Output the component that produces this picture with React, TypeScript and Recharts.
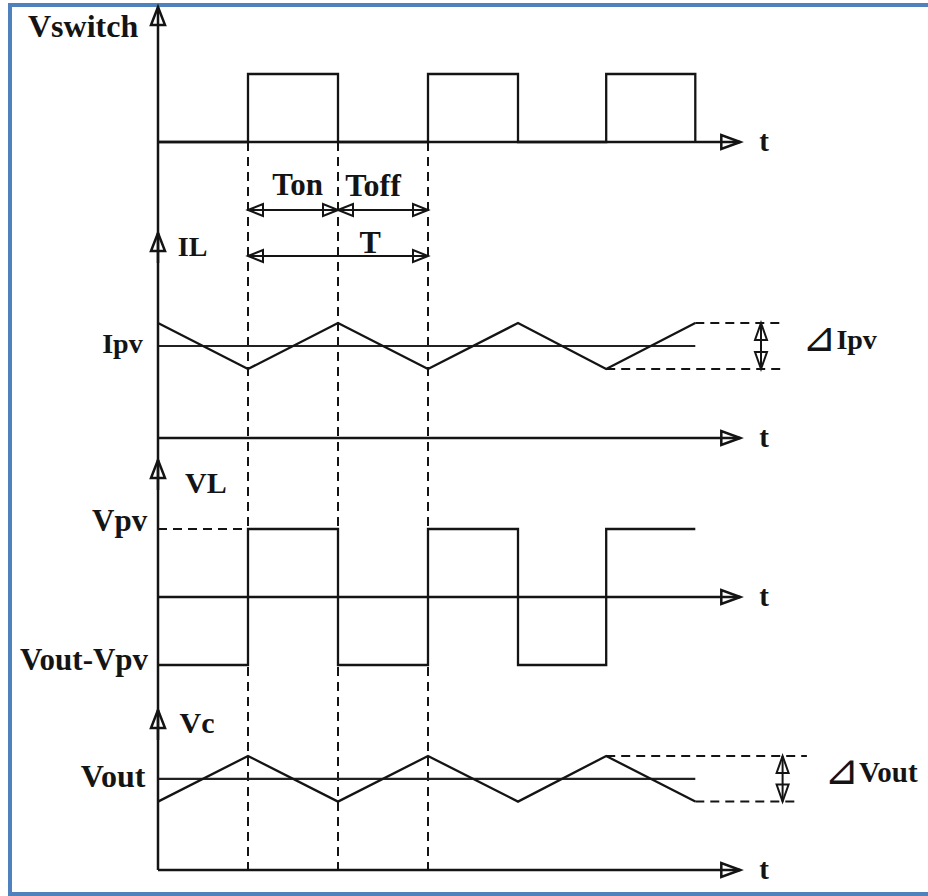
import { LineChart, Line, XAxis, YAxis, ReferenceLine, ReferenceDot } from 'recharts'

// time is measured in units of Ton (Ton = Toff, so one period T = 2)
const SWITCH_T = [0, 1, 1, 2, 2, 3, 3, 4, 4, 4.98, 4.98, 5.97, 5.97]
const SWITCH_V = [0, 0, 1, 1, 0, 0, 1, 1, 0, 0, 1, 1, 0]

const IL_T = [0, 1, 2, 3, 4, 4.98, 5.97]
const IL_V = [5, 3, 5, 3, 5, 3, 5]
const IPV = 4

const VL_T = [0, 1, 1, 2, 2, 3, 3, 4, 4, 4.98, 4.98, 5.97]
const VL_V = [-1, -1, 1, 1, -1, -1, 1, 1, -1, -1, 1, 1]
const VPV = 1

const VC_T = [0, 1, 2, 3, 4, 4.98, 5.97]
const VC_V = [3, 5, 3, 5, 3, 5, 3]
const VOUT = 4

const EDGES = [1, 2, 3]
const T_END = 5.97
const AXIS_END = 6.47

const LEVEL_LABELS = ['Ipv', 'Vpv', 'Vout-Vpv', 'Vout']
const PANEL_TITLES = ['Vswitch', 'IL', 'VL', 'Vc']

type Pt = { t: number; v: number }
const zip = (ts: number[], vs: number[]): Pt[] => ts.map((t, i) => ({ t, v: vs[i] }))

const switchData = zip(SWITCH_T, SWITCH_V)
const ilData = zip(IL_T, IL_V)
const vlData = zip(VL_T, VL_V)
const vcData = zip(VC_T, VC_V)

// layout: each panel has its own baseline / scale inside one shared y axis (px from top)
const W = 928
const H = 896
const AXIS_X = 158
const PX_PER_TON = 90

type Panel = { base: number; unit: number; top: number }
const SW: Panel = { base: 142, unit: 68, top: 7 }
const IL: Panel = { base: 438, unit: 23, top: 233 }
const VLP: Panel = { base: 597, unit: 68, top: 460 }
const VC: Panel = { base: 870, unit: 22.8, top: 710 }

const at = (p: Panel, v: number) => p.base - v * p.unit
const key = (p: Panel) => (d: Pt) => at(p, d.v)

const INK = '#141414'
const FONT = '"Liberation Serif", "Times New Roman", serif'

const arrow =
  (both: boolean, len = 15, half = 6, sw = 2) =>
  (p: any) => {
    const { x1, y1, x2, y2 } = p
    const d = Math.hypot(x2 - x1, y2 - y1) || 1
    const ux = (x2 - x1) / d
    const uy = (y2 - y1) / d
    const head = (tx: number, ty: number, sx: number, sy: number) => {
      const bx = tx - sx * len
      const by = ty - sy * len
      return `${tx},${ty} ${bx - sy * half},${by + sx * half} ${bx + sy * half},${by - sx * half}`
    }
    return (
      <g>
        <line x1={x1} y1={y1} x2={x2} y2={y2} stroke={INK} strokeWidth={sw} />
        <polygon points={head(x2, y2, ux, uy)} fill="none" stroke={INK} strokeWidth={sw} />
        {both ? <polygon points={head(x1, y1, -ux, -uy)} fill="none" stroke={INK} strokeWidth={sw} /> : null}
      </g>
    )
  }

const tag =
  (text: string, anchor: 'start' | 'end', fs: number, delta: boolean) =>
  (props: any) => {
    const vb = props.viewBox || { x: 0, y: 0 }
    return (
      <text
        x={vb.x}
        y={vb.y + 0.355 * fs}
        textAnchor={anchor}
        fontFamily={FONT}
        fontWeight="bold"
        fontSize={fs}
        fill={INK}
      >
        {delta ? (
          <tspan fontFamily='"DejaVu Sans", sans-serif' fontWeight={300} fontSize={fs * 1.45} dy={2}>
            ⊿
          </tspan>
        ) : null}
        {delta ? <tspan dy={-2}>{text}</tspan> : text}
      </text>
    )
  }

type TagProps = { x: number; y: number; text: string; anchor: 'start' | 'end'; fs?: number; delta?: boolean }
const Tag = ({ x, y, text, anchor, fs = 30, delta = false }: TagProps) => (
  <ReferenceDot x={x} y={y} r={0} fill="none" stroke="none" ifOverflow="visible" label={tag(text, anchor, fs, delta)} />
)

const dashed = { stroke: INK, strokeWidth: 2, strokeDasharray: '9 6' }

export default function App() {
  const panels = [SW, IL, VLP, VC]
  const wave = { type: 'linear' as const, stroke: INK, strokeWidth: 2.3, dot: false, activeDot: false, isAnimationActive: false }
  return (
    <div style={{ position: 'absolute', left: 0, top: 0, width: W, height: H, overflow: 'hidden', background: '#fff' }}>
      <div
        style={{
          position: 'absolute',
          left: 8,
          top: 3,
          width: 940,
          height: 893,
          boxSizing: 'border-box',
          border: '4px solid #4f81bd',
        }}
      />
      <div style={{ position: 'absolute', left: 0, top: 0 }}>
        <LineChart width={W} height={H} margin={{ top: 0, right: 0, bottom: 0, left: 0 }}>
          <XAxis type="number" dataKey="t" domain={[-AXIS_X / PX_PER_TON, (W - AXIS_X) / PX_PER_TON]} hide allowDataOverflow />
          <YAxis type="number" domain={[0, H]} reversed hide allowDataOverflow />

          {/* dashed switching instants */}
          {EDGES.map((e) => (
            <ReferenceLine
              key={`e${e}`}
              segment={[
                { x: e, y: SW.base },
                { x: e, y: VC.base },
              ]}
              {...dashed}
            />
          ))}

          {/* level and ripple guides */}
          <ReferenceLine segment={[{ x: 0, y: at(IL, IPV) }, { x: T_END, y: at(IL, IPV) }]} stroke="#222" strokeWidth={2.2} />
          <ReferenceLine segment={[{ x: 0, y: at(VC, VOUT) }, { x: T_END, y: at(VC, VOUT) }]} stroke="#222" strokeWidth={2.2} />
          <ReferenceLine segment={[{ x: 0, y: at(VLP, VPV) }, { x: 1, y: at(VLP, VPV) }]} {...dashed} />
          <ReferenceLine segment={[{ x: T_END, y: at(IL, 5) }, { x: 6.91, y: at(IL, 5) }]} {...dashed} />
          <ReferenceLine segment={[{ x: 4.98, y: at(IL, 3) }, { x: 6.97, y: at(IL, 3) }]} {...dashed} />
          <ReferenceLine segment={[{ x: 4.98, y: at(VC, 5) }, { x: 7.21, y: at(VC, 5) }]} {...dashed} />
          <ReferenceLine segment={[{ x: T_END, y: at(VC, 3) }, { x: 7.13, y: at(VC, 3) }]} {...dashed} />

          {/* axes */}
          <ReferenceLine segment={[{ x: 0, y: VC.base }, { x: 0, y: SW.top }]} shape={arrow(false, 18, 7, 2.5)} />
          {panels.slice(1).map((p, i) => (
            <ReferenceLine key={`up${i}`} segment={[{ x: 0, y: p.top + 30 }, { x: 0, y: p.top }]} shape={arrow(false, 18, 7, 2.5)} />
          ))}
          {panels.map((p, i) => (
            <ReferenceLine key={`ax${i}`} segment={[{ x: 0, y: p.base }, { x: AXIS_END, y: p.base }]} shape={arrow(false, 19, 7, 2.5)} />
          ))}

          {/* dimension arrows */}
          <ReferenceLine segment={[{ x: 1, y: 210 }, { x: 2, y: 210 }]} shape={arrow(true)} />
          <ReferenceLine segment={[{ x: 2, y: 210 }, { x: 3, y: 210 }]} shape={arrow(true)} />
          <ReferenceLine segment={[{ x: 1, y: 256 }, { x: 3, y: 256 }]} shape={arrow(true)} />
          <ReferenceLine segment={[{ x: 6.7, y: at(IL, 5) }, { x: 6.7, y: at(IL, 3) }]} shape={arrow(true, 17, 6)} />
          <ReferenceLine segment={[{ x: 6.94, y: at(VC, 5) }, { x: 6.94, y: at(VC, 3) }]} shape={arrow(true, 17, 6)} />

          {/* waveforms */}
          <Line data={switchData} dataKey={key(SW)} {...wave} />
          <Line data={ilData} dataKey={key(IL)} {...wave} />
          <Line data={vlData} dataKey={key(VLP)} {...wave} />
          <Line data={vcData} dataKey={key(VC)} {...wave} />

          {/* texts */}
          <Tag x={-0.22} y={26} text={PANEL_TITLES[0]} anchor="end" fs={32} />
          <Tag x={0.22} y={246} text={PANEL_TITLES[1]} anchor="start" fs={28} />
          <Tag x={0.3} y={482} text={PANEL_TITLES[2]} anchor="start" fs={30} />
          <Tag x={0.24} y={722} text={PANEL_TITLES[3]} anchor="start" fs={30} />
          <Tag x={-0.17} y={343} text={LEVEL_LABELS[0]} anchor="end" fs={28} />
          <Tag x={-0.12} y={520} text={LEVEL_LABELS[1]} anchor="end" fs={31} />
          <Tag x={-0.11} y={659} text={LEVEL_LABELS[2]} anchor="end" fs={31} />
          <Tag x={-0.14} y={776} text={LEVEL_LABELS[3]} anchor="end" fs={32} />
          <Tag x={1.27} y={184} text="Ton" anchor="start" fs={31} />
          <Tag x={2.08} y={185} text="Toff" anchor="start" fs={32} />
          <Tag x={2.24} y={242} text="T" anchor="start" fs={32} />
          {panels.map((p, i) => (
            <Tag key={`t${i}`} x={6.68} y={p.base - 1} text="t" anchor="start" fs={29} />
          ))}
          <Tag x={7.16} y={339} text="Ipv" anchor="start" fs={28} delta />
          <Tag x={7.4} y={772} text="Vout" anchor="start" fs={29} delta />
        </LineChart>
      </div>
    </div>
  )
}
